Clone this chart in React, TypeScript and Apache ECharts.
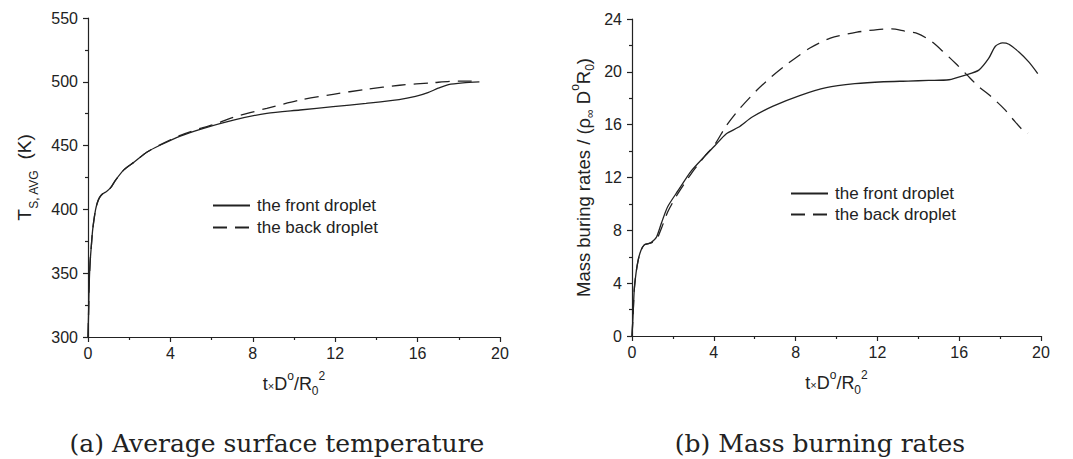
import React, { useEffect, useRef } from "react";
import * as echarts from "echarts";

// ---- Data: (a) average surface temperature [t*D/R0^2, T (K)] ----
const tempFront: [number, number][] = [
  [0, 300], [0.03, 320], [0.05, 337], [0.1, 358], [0.16, 371], [0.22, 383], [0.29, 392],
  [0.37, 400], [0.45, 405], [0.55, 409], [0.7, 412], [0.9, 414], [1.1, 417], [1.34, 423],
  [1.74, 431], [2.23, 437], [2.87, 445], [3.52, 450.5], [4.48, 457.5], [5.45, 462.8],
  [7.06, 470], [8.68, 475.3], [10.29, 477.9], [11.9, 480.5], [13.5, 483.1], [15.1, 486],
  [15.9, 488.5], [16.5, 491.5], [17.0, 495], [17.5, 497.8], [18.2, 499.2], [19.0, 500],
];
const tempBack: [number, number][] = [
  [0, 300], [0.03, 320], [0.05, 337], [0.1, 358], [0.16, 371], [0.22, 383], [0.29, 392],
  [0.37, 400], [0.45, 405], [0.55, 409], [0.7, 412], [0.9, 414], [1.1, 417], [1.34, 423],
  [1.74, 431], [2.23, 437], [2.87, 445], [3.52, 450.8], [4.48, 458], [5.45, 463.5],
  [6.2, 467], [7.06, 472.2], [8.68, 479.2], [10.29, 485.7], [11.9, 490.2], [13.5, 494.1],
  [15.13, 497.3], [16.74, 499.3], [18.03, 500.6], [19.0, 500.5],
];

// ---- Data: (b) mass burning rates [t*D/R0^2, rate] ----
const rateFront: [number, number][] = [
  [0, 0], [0.05, 1.5], [0.11, 3.5], [0.2, 4.8], [0.31, 5.8], [0.44, 6.5], [0.6, 6.9],
  [0.8, 7.0], [0.95, 7.1], [1.2, 7.5], [1.45, 8.6], [1.75, 9.8], [2.25, 11.0], [2.9, 12.5],
  [3.55, 13.6], [4.05, 14.4], [4.6, 15.3], [5.2, 15.8], [5.9, 16.6], [6.9, 17.4], [8.2, 18.2],
  [9.5, 18.8], [10.9, 19.1], [12.3, 19.25], [13.5, 19.3], [14.5, 19.35], [15.5, 19.4],
  [16.3, 19.75], [16.96, 20.13], [17.44, 21.01], [17.77, 21.94], [18.12, 22.19],
  [18.43, 22.09], [18.92, 21.5], [19.4, 20.75], [19.84, 19.87],
];
const rateBack: [number, number][] = [
  [0, 0], [0.05, 1.5], [0.11, 3.5], [0.2, 4.8], [0.31, 5.8], [0.44, 6.5], [0.6, 6.9],
  [0.8, 7.0], [0.95, 7.05], [1.2, 7.3], [1.45, 8.2], [1.75, 9.4], [2.25, 10.8], [2.9, 12.3],
  [3.55, 13.6], [4.05, 14.5], [4.6, 15.9], [5.2, 17.1], [6.1, 18.6], [6.8, 19.6], [7.6, 20.6],
  [8.7, 21.8], [9.7, 22.55], [11.0, 23.0], [12.0, 23.2], [12.7, 23.25], [13.3, 23.1],
  [13.97, 22.9], [14.61, 22.34], [15.18, 21.58], [15.83, 20.63], [16.39, 19.75],
  [16.96, 18.87], [17.53, 18.17], [18.22, 17.16], [18.66, 16.35], [19.1, 15.6], [19.36, 15.35],
];

const seriesNames = ["the front droplet", "the back droplet"];
const xTicks = { min: 0, max: 20, interval: 4 };
const tempTicks = { min: 300, max: 550, interval: 50 };
const rateTicks = { min: 0, max: 24, interval: 4 };
const captions = ["(a) Average surface temperature", "(b) Mass burning rates"];

const INK = "#222";
const SANS = "Liberation Sans, Arial, sans-serif";

const mainTok = (fs: number, lh: number, pad: number) => ({
  fontSize: fs, lineHeight: lh, verticalAlign: "top", padding: [pad, 0, 0, 0],
  fontFamily: SANS, color: INK,
});

function makeXAxis(gridIndex: number) {
  return {
    type: "value", gridIndex, ...xTicks,
    name: "{m|t}{x|×}{m|D}{sup|o}{m|/R}{sub|0}{sup|2}",
    nameLocation: "middle", nameGap: 33,
    nameTextStyle: {
      rich: {
        m: mainTok(18, 21, 5), x: mainTok(11, 13, 10),
        sup: mainTok(12, 14, 0), sub: mainTok(12, 14, 15),
      },
    },
    axisLine: { show: true, onZero: false, lineStyle: { color: INK, width: 1.2 } },
    axisTick: { show: true, inside: false, length: 5, lineStyle: { color: INK, width: 1.2 } },
    minorTick: { show: true, splitNumber: 2, length: 3, lineStyle: { color: INK, width: 1.2 } },
    splitLine: { show: false },
    axisLabel: { fontSize: 16, color: INK, fontFamily: SANS, margin: 8 },
  };
}

function makeYAxis(gridIndex: number, ticks: any, name: string, rich: any, nameGap: number) {
  return {
    type: "value", gridIndex, ...ticks, name, nameLocation: "middle", nameGap,
    nameTextStyle: { rich },
    axisLine: { show: true, onZero: false, lineStyle: { color: INK, width: 1.2 } },
    axisTick: { show: true, inside: false, length: 5, lineStyle: { color: INK, width: 1.2 } },
    minorTick: { show: true, splitNumber: 2, length: 3, lineStyle: { color: INK, width: 1.2 } },
    splitLine: { show: false },
    axisLabel: { fontSize: 16, color: INK, fontFamily: SANS, margin: 10 },
  };
}

function makeSeries(name: string, data: [number, number][], idx: number, dashed: boolean) {
  return {
    type: "line", name, data, xAxisIndex: idx, yAxisIndex: idx,
    symbol: "none", showSymbol: false, smooth: 0.25, clip: false,
    itemStyle: { color: INK },
    lineStyle: { color: INK, width: 1.3, type: dashed ? [14, 8] : "solid" },
  };
}

export default function App() {
  const ref = useRef<HTMLDivElement>(null);
  useEffect(() => {
    if (!ref.current) return;
    const chart = echarts.init(ref.current, null, { renderer: "svg" });
    const legendBase = {
      orient: "vertical", itemWidth: 37, itemHeight: 14, padding: 0,
      selectedMode: false, data: seriesNames,
      itemStyle: { opacity: 0 },
      textStyle: { fontSize: 17, color: INK, fontFamily: SANS, padding: [0, 0, 0, 2] },
    };
    chart.setOption({
      animation: false,
      backgroundColor: "#fff",
      grid: [
        { left: 88, top: 18, width: 412, height: 319 },
        { left: 632, top: 19, width: 409, height: 317 },
      ],
      xAxis: [makeXAxis(0), makeXAxis(1)],
      yAxis: [
        makeYAxis(0, tempTicks, "{m|T}{sub|S, AVG}{m|  (K)}", {
          m: mainTok(19, 22, 0), sub: mainTok(12, 14, 13),
        }, 51),
        makeYAxis(1, rateTicks,
          "{m|Mass buring rates / (ρ}{sub|∞}{m| D}{sup|o}{m|R}{sub|0}{m|)}", {
            m: mainTok(18.5, 21, 5), sup: mainTok(12, 14, 0), sub: mainTok(12, 14, 15),
          }, 42),
      ],
      legend: [
        { ...legendBase, left: 212, top: 197, itemGap: 5 },
        { ...legendBase, left: 790, top: 185, itemGap: 4 },
      ],
      series: [
        makeSeries(seriesNames[0], tempFront, 0, false),
        makeSeries(seriesNames[1], tempBack, 0, true),
        makeSeries(seriesNames[0], rateFront, 1, false),
        makeSeries(seriesNames[1], rateBack, 1, true),
      ],
      graphic: [
        {
          type: "text", x: 277, y: 443,
          style: {
            text: captions[0], font: "25px 'DejaVu Serif', serif", fill: "#222",
            textAlign: "center", textVerticalAlign: "middle",
          },
        },
        {
          type: "text", x: 820, y: 443,
          style: {
            text: captions[1], font: "25px 'DejaVu Serif', serif", fill: "#222",
            textAlign: "center", textVerticalAlign: "middle",
          },
        },
      ],
    });
    return () => chart.dispose();
  }, []);
  return (
    <div
      ref={ref}
      style={{ position: "absolute", left: 0, top: 0, width: 1073, height: 459, background: "#fff" }}
    />
  );
}
